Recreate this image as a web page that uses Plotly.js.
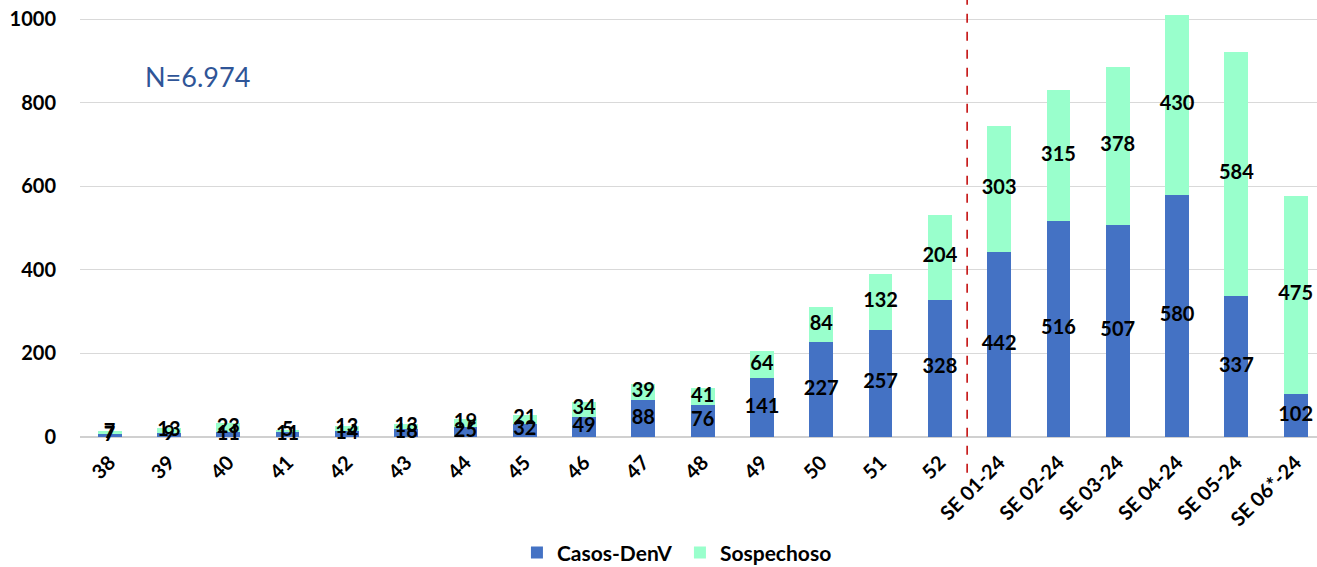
<!DOCTYPE html>
<html><head><meta charset="utf-8">
<script src="https://cdn.plot.ly/plotly-3.0.1.min.js"></script>
<style>html,body{margin:0;padding:0;background:#fff}#chart{width:1317px;height:567px}</style>
</head><body><div id="chart"></div>
<script>
const categories = ["38","39","40","41","42","43","44","45","46","47","48","49","50","51","52","SE 01-24","SE 02-24","SE 03-24","SE 04-24","SE 05-24","SE 06*-24"];
const casosDenV = [7,9,11,11,14,18,25,32,49,88,76,141,227,257,328,442,516,507,580,337,102];
const sospechoso = [7,13,23,5,13,13,19,21,34,39,41,64,84,132,204,303,315,378,430,584,475];
const totalLabel = "N=6.974";

const idx = categories.map((c,i)=>i);
const FONT = "Lato, 'Open Sans', sans-serif";
const traces = [
  {type:'bar', name:'Casos-DenV', x:idx, y:casosDenV, marker:{color:'#4472C4'}, hoverinfo:'y'},
  {type:'bar', name:'Sospechoso', x:idx, y:sospechoso, marker:{color:'#99FFCC'}, hoverinfo:'y'},
  {type:'scatter', mode:'text', x:idx, y:casosDenV.map(v=>v/2), text:casosDenV.map(String),
   textfont:{family:FONT, size:20, color:'#000', weight:'bold'}, showlegend:false, hoverinfo:'skip', cliponaxis:false},
  {type:'scatter', mode:'text', x:idx, y:sospechoso.map((v,i)=>casosDenV[i]+v/2), text:sospechoso.map(String),
   textfont:{family:FONT, size:20, color:'#000', weight:'bold'}, showlegend:false, hoverinfo:'skip', cliponaxis:false}
];
const layout = {
  width:1317, height:567,
  margin:{l:80, r:0, t:15, b:130},
  barmode:'stack', bargap:0.6,
  paper_bgcolor:'#fff', plot_bgcolor:'#fff',
  font:{family:FONT, color:'#000'},
  xaxis:{range:[-0.5,20.36], tickvals:idx, ticktext:categories, tickangle:-45, ticklabelstandoff:9, automargin:false,
    tickfont:{family:FONT, size:20, weight:'bold', color:'#000'}, showgrid:false, zeroline:false, showline:false, ticks:''},
  yaxis:{range:[0,1010], tickvals:[0,200,400,600,800,1000], automargin:false, tickfont:{family:FONT, size:20, weight:'bold', color:'#000'},
    gridcolor:'#d9d9d9', gridwidth:1, zeroline:true, zerolinecolor:'#d0d0d0', zerolinewidth:2, showline:false, ticks:'', ticklabelstandoff:23},
  legend:{orientation:'h', x:0.485, xanchor:'center', xref:'paper', yref:'container', y:0.025, yanchor:'middle', font:{family:FONT, size:21, weight:'bold'}, itemwidth:30, entrywidth:118, traceorder:'normal'},
  shapes:[{type:'line', xref:'x', yref:'paper', x0:14.46, x1:14.46, y0:-0.085, y1:1.05, line:{color:'#C00000', width:1.5, dash:'dash'}}],
  annotations:[{xref:'paper', yref:'paper', x:0.095, xanchor:'center', y:0.855, yanchor:'middle', text:totalLabel, showarrow:false, font:{family:FONT, size:27, color:'#2F5597'}}]
};
Plotly.newPlot('chart', traces, layout, {displayModeBar:false, staticPlot:true});
</script></body></html>
